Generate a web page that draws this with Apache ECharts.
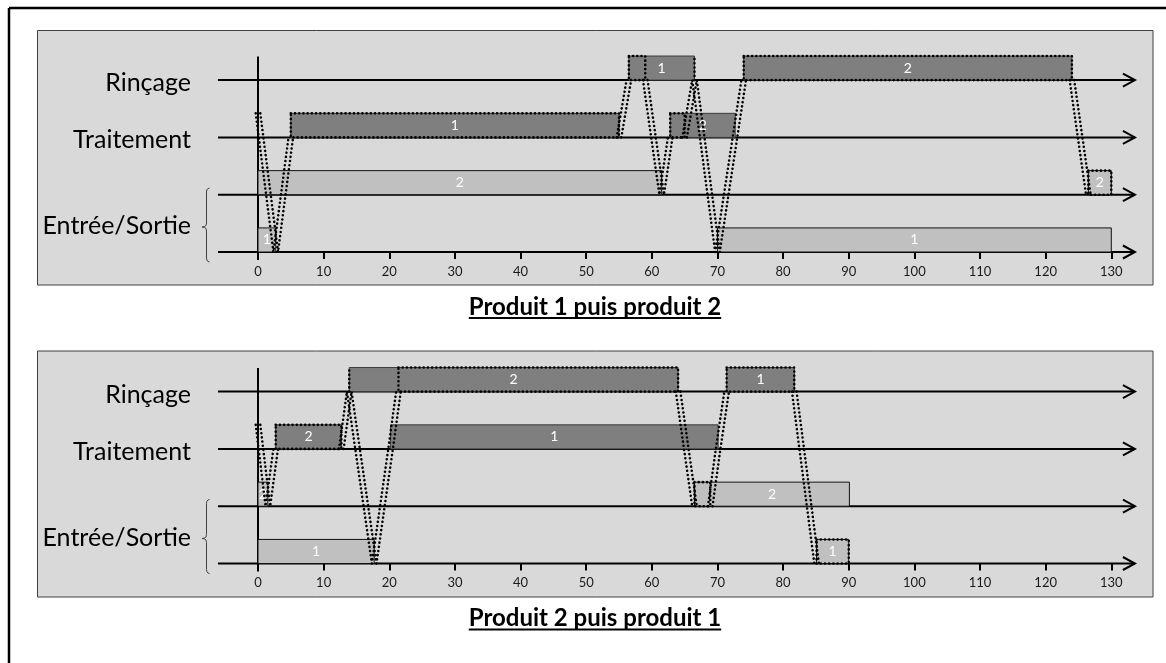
<!DOCTYPE html>
<html>
<head>
<meta charset="utf-8">
<script src="https://cdn.jsdelivr.net/npm/echarts@6/dist/echarts.min.js"></script>
<style>
  html, body { margin: 0; padding: 0; background: #fff; }
  #chart { width: 1166px; height: 663px; }
</style>
</head>
<body>
<div id="chart"></div>
<script>
// niveaux : 3 = Rinçage, 2 = Traitement, 1 = Entrée/Sortie (haut), 0 = Entrée/Sortie (bas)
const rowNames = ["Rinçage", "Traitement", "Entrée/Sortie"];
const rowLevels = [3, 2, 1, 0];
const titles = ["Produit 1 puis produit 2", "Produit 2 puis produit 1"];

// [niveau, début, fin, étiquette, teinte]
const barsA = [
  [3, 56.5, 66.5, "1", "dark"],
  [3, 74, 124, "2", "dark"],
  [2, 5, 55, "1", "dark"],
  [2, 62.8, 72.7, "2", "dark"],
  [1, 0, 61.5, "2", "light"],
  [1, 126.5, 130, "2", "light"],
  [0, 0, 2.7, "1", "light"],
  [0, 70, 130, "1", "light"],
];
const barsB = [
  [3, 13.9, 64, "2", "dark"],
  [3, 71.4, 81.7, "1", "dark"],
  [2, 2.7, 12.7, "2", "dark"],
  [2, 20.2, 70.1, "1", "dark"],
  [1, 0, 1.5, "2", "light"],
  [1, 66.5, 90.1, "2", "light"],
  [0, 0, 17.7, "1", "light"],
  [0, 85.1, 90, "1", "light"],
];

// cadres pointillés : [niveau, début, fin]
const dottedA = [[2, 5, 55], [3, 56.5, 59], [2, 62.8, 65], [3, 74, 124], [1, 126.5, 130]];
const dottedB = [[2, 2.7, 12.7], [3, 21.4, 64], [1, 66.5, 68.9], [3, 71.4, 81.7], [0, 85.1, 90]];

// déplacements du pont (temps, niveau)
const pathsA = [
  [[0, 2.42], [2.7, 0], [5, 2]],
  [[55, 2], [56.5, 3]],
  [[59, 3], [61.5, 1], [62.8, 2]],
  [[65, 2], [66.5, 3], [70, 0], [74, 3]],
  [[124, 3], [126.5, 1]],
];
const pathsB = [
  [[0, 2.42], [1.5, 1], [2.7, 2]],
  [[12.7, 2], [13.9, 3], [17.7, 0], [20.2, 2], [21.4, 3]],
  [[64, 3], [66.5, 1]],
  [[68.9, 1], [70.1, 2], [71.4, 3]],
  [[81.7, 3], [85.1, 0]],
];
// bords verticaux pointillés simples
const edgesA = [[[66.5, 3], [66.5, 3.42]]];
const edgesB = [[[13.9, 3], [13.9, 3.42]]];

const BAR_H = 0.42;
const DOTS = { fill: null, stroke: "#000", lineWidth: 2.6, lineDash: [0.01, 4.2], lineCap: "round" };
const gridTops = [51.45, 362.95];
const panels = [
  { bars: barsA, dotted: dottedA, paths: pathsA, edges: edgesA },
  { bars: barsB, dotted: dottedB, paths: pathsB, edges: edgesB },
];

const chart = echarts.init(document.getElementById("chart"));

function rowRender(params, api) {
  const lvl = rowLevels[params.dataIndex];
  const a = api.coord([-6.1, lvl]);
  const b = api.coord([133.6, lvl]);
  const st = { stroke: "#000", lineWidth: 2, fill: null };
  return {
    type: "group",
    children: [
      { type: "line", shape: { x1: a[0], y1: a[1], x2: b[0], y2: b[1] }, style: st },
      { type: "polyline", shape: { points: [[b[0] - 12, b[1] - 6.5], [b[0], b[1]], [b[0] - 12, b[1] + 6.5]] }, style: st },
    ],
  };
}

function axisRender(params, api) {
  const a = api.coord([0, 3.41]);
  const b = api.coord([0, -0.14]);
  return { type: "line", shape: { x1: a[0], y1: a[1], x2: b[0], y2: b[1] }, style: { stroke: "#000", lineWidth: 2 } };
}

function barRender(list) {
  return function (params, api) {
    const d = list[params.dataIndex];
    const p0 = api.coord([d[1], d[0] + BAR_H]);
    const p1 = api.coord([d[2], d[0]]);
    const dark = d[4] === "dark";
    return {
      type: "rect",
      shape: { x: p0[0], y: p0[1], width: p1[0] - p0[0], height: p1[1] - p0[1] },
      style: { fill: dark ? "#7f7f7f" : "#c0c0c0", stroke: dark ? "#3a3a3a" : "#111", lineWidth: 1 },
      textContent: { style: { text: d[3], fill: "#fff", fontSize: 14, fontFamily: "Lato" } },
      textConfig: { position: "inside" },
    };
  };
}

function dottedRender(list) {
  return function (params, api) {
    const d = list[params.dataIndex];
    const p0 = api.coord([d[1], d[0] + BAR_H]);
    const p1 = api.coord([d[2], d[0]]);
    return {
      type: "rect",
      shape: { x: p0[0], y: p0[1], width: p1[0] - p0[0], height: p1[1] - p0[1] },
      style: DOTS,
    };
  };
}

function pathRender(list, doubled) {
  return function (params, api) {
    const pts = list[params.dataIndex].map((p) => api.coord(p));
    const offs = doubled ? [-2.3, 2.3] : [0];
    return {
      type: "group",
      children: offs.map((o) => ({
        type: "polyline",
        shape: { points: pts.map((p) => [p[0] + o, p[1]]) },
        style: DOTS,
      })),
    };
  };
}

const series = [];
panels.forEach((pn, i) => {
  const base = { type: "custom", xAxisIndex: i, yAxisIndex: i, clip: false, silent: true };
  series.push(Object.assign({}, base, { z: 1, data: rowLevels.map((l) => [0, l]), renderItem: rowRender }));
  series.push(Object.assign({}, base, { z: 1, data: [[0, 0]], renderItem: axisRender }));
  series.push(Object.assign({}, base, { z: 2, data: pn.bars.map((d) => [d[1], d[0]]), renderItem: barRender(pn.bars) }));
  series.push(Object.assign({}, base, { z: 3, data: pn.dotted.map((d) => [d[1], d[0]]), renderItem: dottedRender(pn.dotted) }));
  series.push(Object.assign({}, base, { z: 3, data: pn.paths.map((p) => p[0]), renderItem: pathRender(pn.paths, true) }));
  series.push(Object.assign({}, base, { z: 3, data: pn.edges.map((p) => p[0]), renderItem: pathRender(pn.edges, false) }));
});

// décor : cadre, panneaux gris, libellés, accolades, titres soulignés
const TITLE_FONT = "bold 24px Lato";
const ctx = document.createElement("canvas").getContext("2d");
ctx.font = TITLE_FONT;
const graphic = [
  { type: "line", shape: { x1: 9, y1: 8, x2: 9, y2: 663 }, style: { stroke: "#000", lineWidth: 2.5 }, z: -20 },
  { type: "line", shape: { x1: 9, y1: 8, x2: 1166, y2: 8 }, style: { stroke: "#000", lineWidth: 2.5 }, z: -20 },
];
const panelBoxes = [[30.5, 254.5], [351, 246]];
panelBoxes.forEach((b, i) => {
  const off = i * 311.5;
  graphic.push({ type: "rect", shape: { x: 37.5, y: b[0], width: 1115.5, height: b[1] }, style: { fill: "#d9d9d9", stroke: "#404040", lineWidth: 1 }, z: -10 });
  const ys = [83 + off, 140 + off, 226 + off];
  rowNames.forEach((n, k) => {
    graphic.push({ type: "text", x: 191, y: ys[k], style: { text: n, fill: "#000", font: "25px Lato", textAlign: "right", textVerticalAlign: "middle" }, z: 10 });
  });
  const brace = [
    [209.5, 188], [207.8, 188.6], [206.8, 190], [206.5, 192], [206.5, 223], [206, 225.5], [204.5, 226.6], [202, 227],
    [204.5, 227.4], [206, 228.5], [206.5, 231], [206.5, 258], [206.8, 260], [207.8, 261.4], [209.5, 262],
  ];
  graphic.push({
    type: "polyline",
    shape: { points: brace.map((p) => [p[0], p[1] + off]) },
    style: { fill: null, stroke: "#404040", lineWidth: 1 },
    z: 10,
  });
  const w = ctx.measureText(titles[i]).width;
  const ty = 307 + off;
  graphic.push({ type: "text", x: 595, y: ty, style: { text: titles[i], fill: "#000", font: TITLE_FONT, textAlign: "center", textVerticalAlign: "middle" }, z: 10 });
  graphic.push({ type: "line", shape: { x1: 595 - w / 2, y1: ty + 11, x2: 595 + w / 2, y2: ty + 11 }, style: { stroke: "#000", lineWidth: 2 }, z: 10 });
});

chart.setOption({
  animation: false,
  grid: gridTops.map((t) => ({ left: 258, right: 54.7, top: t, height: 200.55 })),
  xAxis: gridTops.map((t, i) => ({
    type: "value",
    gridIndex: i,
    min: 0,
    max: 130,
    interval: 10,
    axisLine: { show: false },
    axisTick: { show: true, length: 7, lineStyle: { color: "#000", width: 2 } },
    axisLabel: { margin: 13, fontFamily: "Lato", fontSize: 13, color: "#1a1a1a" },
    splitLine: { show: false },
  })),
  yAxis: gridTops.map((t, i) => ({ type: "value", gridIndex: i, min: 0, max: 3.5, show: false })),
  graphic: graphic,
  series: series,
});
</script>
</body>
</html>
